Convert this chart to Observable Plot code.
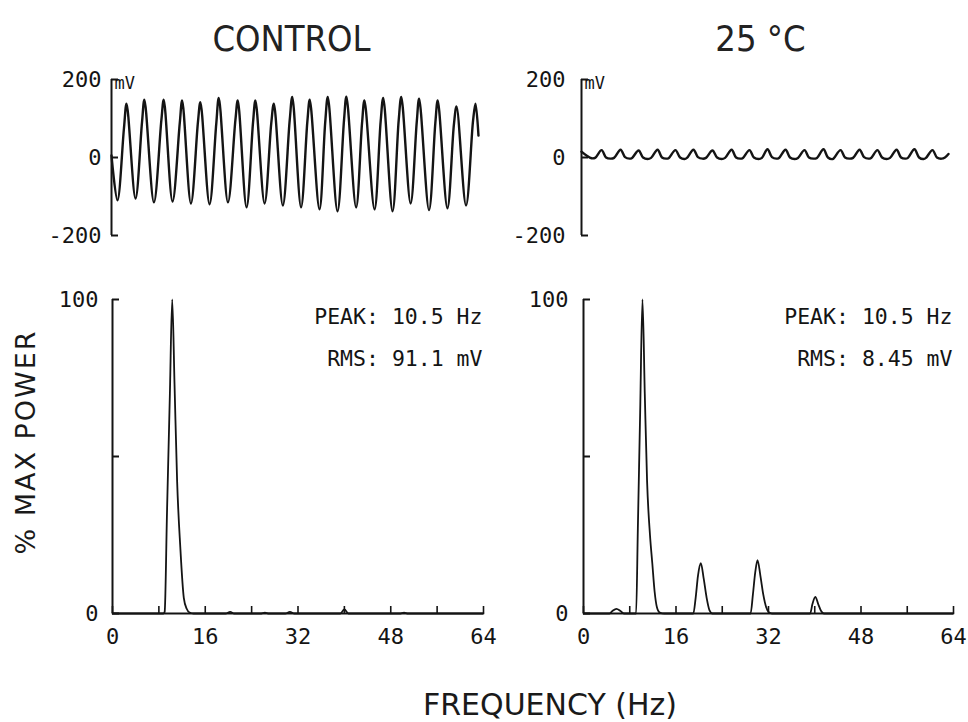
<!DOCTYPE html>
<html><head><meta charset="utf-8">
<script src="https://cdn.jsdelivr.net/npm/d3@7"></script>
<script src="https://cdn.jsdelivr.net/npm/@observablehq/plot@0.6"></script>
<style>
body{margin:0;background:#fff;}
#chart{position:relative;width:968px;height:722px;background:#fff;overflow:hidden;}
.lbl{position:absolute;color:#1a1a1a;font-family:"DejaVu Sans",sans-serif;white-space:nowrap;line-height:1;}
</style></head><body><div id="chart"></div>
<script>
// ---------- data ----------
const titles = ["CONTROL", "25 °C"];
const xLabel = "FREQUENCY (Hz)";
const yLabel = "% MAX POWER";
const unitLabel = "mV";

const voltTicks = [-200, 0, 200];
const powerTicks = [0, 50, 100];
const powerLabelTicks = [0, 100];
const freqTicks = [0, 8, 16, 24, 32, 40, 48, 56, 64];
const freqLabelTicks = [0, 16, 32, 48, 64];

const statsControl = ["PEAK: 10.5 Hz", "RMS: 91.1 mV"];
const statsWarm = ["PEAK: 10.5 Hz", "RMS: 8.45 mV"];

// control trace (time in ms, voltage in mV)
const ctrlTime = [0,
  32, 67, 81, 129, 164, 177, 228, 268, 281, 328, 367, 380, 427, 465, 478,
  527, 563, 577, 626, 666, 679, 726, 761, 774, 823, 859, 873, 921, 958, 972,
  1019, 1053, 1066, 1118, 1149, 1163, 1215, 1250, 1263, 1315, 1347, 1360,
  1414, 1447, 1461, 1511, 1544, 1558, 1608, 1641, 1654, 1707, 1741, 1754,
  1806, 1841, 1855, 1906, 1944, 1957, 1973];
const ctrlMv = [5,
  -110, 75, 138, -105, 90, 148, -115, 95, 148, -113, 88, 146, -118, 92, 142,
  -120, 85, 153, -115, 95, 146, -128, 90, 146, -118, 88, 138, -123, 95, 155,
  -128, 92, 148, -133, 90, 155, -138, 95, 156, -128, 88, 146,
  -133, 92, 153, -138, 95, 155, -118, 90, 151, -135, 88, 146,
  -130, 85, 131, -123, 95, 138, 56];

// 25 °C trace (time in ms, voltage in mV)
const warmTime = [0, 27, 54,
  73, 108, 132, 156, 175, 210, 234, 258, 272, 307, 331, 355, 374, 409, 433, 457,
  470, 505, 530, 554, 567, 602, 626, 651, 669, 704, 729, 753, 772, 807, 831, 855,
  868, 903, 927, 952, 970, 1000, 1024, 1048, 1062, 1097, 1121, 1145,
  1164, 1199, 1223, 1247, 1266, 1301, 1325, 1350, 1358, 1393, 1417, 1441,
  1460, 1495, 1519, 1543, 1557, 1591, 1616, 1640, 1659, 1694, 1718, 1742,
  1755, 1790, 1815, 1839, 1852, 1887, 1911, 1936, 1954, 1973];
const warmMv = [15, 5, -2,
  -1, 19, 0, -3, -1, 20, 1, -3, -1, 18, 0, -4, -1, 20, 0, -3,
  -1, 19, 0, -4, -1, 20, 1, -3, -1, 18, 0, -4, -1, 20, 0, -3,
  -1, 19, 0, -4, -1, 21, 1, -3, -1, 20, 0, -4,
  -1, 19, 0, -3, -1, 21, 0, -4, -1, 19, 0, -3,
  -1, 20, 1, -3, -1, 19, 0, -4, -1, 20, 0, -3,
  -1, 21, 0, -4, -1, 19, 0, -3, 0, 9];

// power spectra (frequency in Hz, % of max power)
const ctrlFreq = [0, 8.8, 9.0, 9.4, 9.9, 10.3, 10.7, 11.15, 11.7, 12.3, 12.8, 13.3, 14,
  19.5, 20.3, 21, 25.5, 26.3, 27, 29.8, 30.6, 31.4, 39.3, 40.0, 40.7, 49.5, 50.3, 51, 64];
const ctrlPow = [0, 0, 0.5, 32, 70, 100, 73, 42, 21, 5, 1.5, 0.3, 0,
  0, 0.5, 0, 0, 0.3, 0, 0, 0.5, 0, 0, 1.3, 0, 0, 0.3, 0, 0];

const warmFreq = [0, 4.5, 5.0, 5.7, 6.4, 7.0, 9.1, 9.4, 9.8, 10.2, 10.6, 11.0, 11.5, 11.9, 12.3, 12.7, 13.2, 14,
  19.0, 19.4, 19.8, 20.3, 20.8, 21.3, 21.8, 22.3,
  28.9, 29.3, 29.7, 30.1, 30.6, 31.1, 31.6, 32.1, 32.6,
  39.2, 39.6, 40.1, 40.6, 41.1, 41.6, 64];
const warmPow = [0, 0, 0.8, 1.5, 0.8, 0, 0, 27, 64, 100, 70, 42, 25, 16, 7, 2, 0.3, 0,
  0, 5, 12, 16, 11, 5, 1, 0,
  0, 6, 13, 17, 12, 6, 2, 0.3, 0,
  0, 3, 5.3, 3, 0.8, 0, 0];

const timeDomain = [0, 2000];
const voltDomain = [-200, 200];
const freqDomain = [0, 64];
const powerDomain = [0, 100];

// ---------- drawing ----------
const INK = "#141414";
const chart = document.getElementById("chart");

function baseStyle(left, top) {
  return {position: "absolute", left: left + "px", top: top + "px", background: "transparent",
    overflow: "visible", color: INK, fontFamily: "'DejaVu Sans Mono', monospace", fontSize: "22px"};
}

function tracePlot({time, mv, title, left, width, ml, mr, pad, titleDx}) {
  const data = time.map((t, i) => ({t, v: mv[i]}));
  return Plot.plot({
    width, height: 260, marginLeft: ml, marginRight: mr, marginTop: 79, marginBottom: 25,
    style: baseStyle(left, 0),
    x: {domain: timeDomain, axis: null},
    y: {domain: voltDomain},
    marks: [
      Plot.ruleX([0], {stroke: INK, strokeWidth: 2}),
      Plot.ruleY(voltTicks, {x1: 0, x2: 0, insetRight: -7, stroke: INK, strokeWidth: 2}),
      Plot.axisY({ticks: voltTicks, tickSize: 0, tickPadding: pad, tickFormat: d => String(d), label: null}),
      Plot.line(data, {x: "t", y: "v", stroke: INK, strokeWidth: 2.4, curve: "catmull-rom"}),
      Plot.text([unitLabel], {text: d => d, frameAnchor: "top-left", textAnchor: "start", lineAnchor: "top",
        dx: 3, dy: -3, fontSize: 17, fill: INK}),
      Plot.text([title], {text: d => d, frameAnchor: "top", lineAnchor: "bottom", dy: -29, dx: titleDx,
        fontSize: 36, fontFamily: "'DejaVu Sans Condensed', 'DejaVu Sans', sans-serif", fill: "#222"})
    ]
  });
}

function spectrumPlot({freq, pow, stats, left, width, ml, mr, pad}) {
  const data = freq.map((f, i) => ({f, p: pow[i]}));
  return Plot.plot({
    width, height: 400, marginLeft: ml, marginRight: mr, marginTop: 29, marginBottom: 57,
    style: baseStyle(left, 270),
    x: {domain: freqDomain},
    y: {domain: powerDomain},
    marks: [
      Plot.ruleX([0], {stroke: INK, strokeWidth: 2}),
      Plot.ruleY([0], {stroke: INK, strokeWidth: 2}),
      Plot.ruleY(powerTicks, {x1: 0, x2: 0, insetRight: -7, stroke: INK, strokeWidth: 2}),
      Plot.ruleX(freqTicks, {y1: 0, y2: 0, insetTop: -7, stroke: INK, strokeWidth: 1.6}),
      Plot.axisY({ticks: powerLabelTicks, tickSize: 0, tickPadding: pad, tickFormat: d => String(d), label: null}),
      Plot.axisX({ticks: freqLabelTicks, tickSize: 0, tickPadding: 15, tickFormat: d => String(d), label: null}),
      Plot.line(data, {x: "f", y: "p", stroke: INK, strokeWidth: 1.8, curve: "monotone-x"}),
      Plot.text([stats.join("\n")], {text: d => d, frameAnchor: "top-right", textAnchor: "end", lineAnchor: "top",
        lineHeight: 1.95, dy: -5, dx: -1, fontSize: 21.5, fill: INK})
    ]
  });
}

chart.append(tracePlot({time: ctrlTime, mv: ctrlMv, title: titles[0], left: 0, width: 490, ml: 111, mr: 7, pad: 10, titleDx: -6}));
chart.append(tracePlot({time: warmTime, mv: warmMv, title: titles[1], left: 490, width: 478, ml: 91, mr: 15, pad: 16, titleDx: -7}));
chart.append(spectrumPlot({freq: ctrlFreq, pow: ctrlPow, stats: statsControl, left: 0, width: 490, ml: 112, mr: 7, pad: 14}));
chart.append(spectrumPlot({freq: warmFreq, pow: warmPow, stats: statsWarm, left: 490, width: 478, ml: 93, mr: 15, pad: 15}));

const xl = document.createElement("div");
xl.className = "lbl";
xl.textContent = xLabel;
Object.assign(xl.style, {left: "550px", top: "690px", fontSize: "30px", transform: "translateX(-50%)"});
chart.append(xl);

const yl = document.createElement("div");
yl.className = "lbl";
yl.textContent = yLabel;
Object.assign(yl.style, {left: "25px", top: "442px", fontSize: "27px", letterSpacing: "2px",
  transform: "translate(-50%,-50%) rotate(-90deg)"});
chart.append(yl);
</script>
</body></html>
